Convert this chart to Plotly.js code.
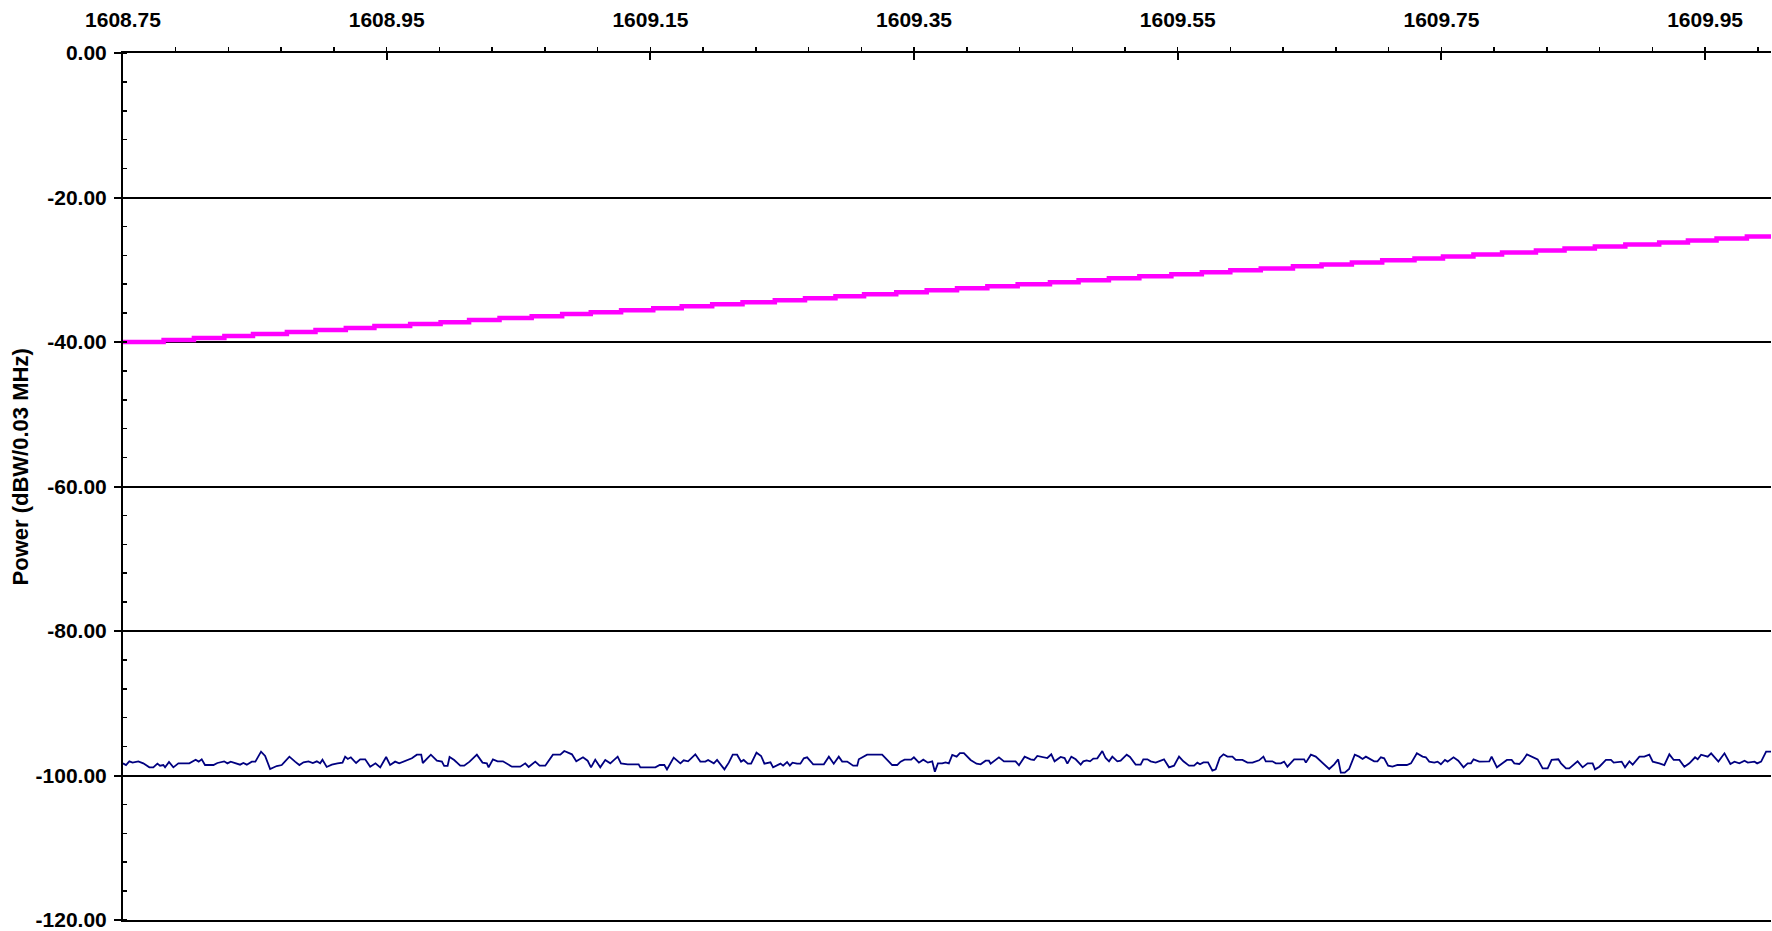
<!DOCTYPE html>
<html><head><meta charset="utf-8">
<script src="https://cdn.plot.ly/plotly-3.0.1.min.js"></script>
<style>html,body{margin:0;padding:0;background:#fff;}#chart{width:1772px;height:931px;}</style>
</head><body><div id="chart"></div>
<script>
// ---- Data ----
const xTickVals = [1608.75, 1608.95, 1609.15, 1609.35, 1609.55, 1609.75, 1609.95];
const xTickText = ['1608.75', '1608.95', '1609.15', '1609.35', '1609.55', '1609.75', '1609.95'];
const yTickVals = [0, -20, -40, -60, -80, -100, -120];
const yTickText = ['0.00', '-20.00', '-40.00', '-60.00', '-80.00', '-100.00', '-120.00'];
const yAxisTitle = 'Power (dBW/0.03 MHz)';

// Mask (magenta staircase): step start frequencies (MHz) and levels (dBW)
const maskFreq = [1608.75, 1608.7808, 1608.8038, 1608.8269, 1608.8486, 1608.8743, 1608.8960, 1608.9190, 1608.9407, 1608.9678, 1608.9909, 1609.0125, 1609.0356, 1609.0600, 1609.0831, 1609.1048, 1609.1278, 1609.1522, 1609.1738, 1609.1969, 1609.2199, 1609.2444, 1609.2673, 1609.2904, 1609.3121, 1609.3365, 1609.3596, 1609.3826, 1609.4056, 1609.4286, 1609.4531, 1609.4748, 1609.4978, 1609.5209, 1609.5452, 1609.5683, 1609.5899, 1609.6130, 1609.6374, 1609.6591, 1609.6821, 1609.7051, 1609.7296, 1609.7512, 1609.7743, 1609.7960, 1609.8217, 1609.8434, 1609.8664, 1609.8895, 1609.9152, 1609.9370, 1609.9587, 1609.9817, 1610.0];
const maskLevel = [-40.00, -39.72, -39.45, -39.17, -38.90, -38.62, -38.35, -38.07, -37.80, -37.52, -37.25, -36.97, -36.69, -36.42, -36.14, -35.87, -35.59, -35.32, -35.04, -34.77, -34.49, -34.21, -33.94, -33.66, -33.39, -33.11, -32.84, -32.56, -32.29, -32.01, -31.74, -31.46, -31.18, -30.91, -30.63, -30.36, -30.08, -29.81, -29.53, -29.26, -28.98, -28.70, -28.43, -28.15, -27.88, -27.60, -27.33, -27.05, -26.78, -26.50, -26.23, -25.95, -25.67, -25.40, -25.40];

// Measured noise floor (navy)
const noiseFreq = [
1608.7500,1608.7523,1608.7548,1608.7573,1608.7616,1608.7654,1608.7700,1608.7730,1608.7761,1608.7781,
1608.7806,1608.7819,1608.7849,1608.7882,1608.7920,1608.8003,1608.8051,1608.8074,1608.8097,1608.8122,
1608.8186,1608.8216,1608.8267,1608.8292,1608.8317,1608.8355,1608.8388,1608.8413,1608.8439,1608.8477,
1608.8504,1608.8547,1608.8578,1608.8616,1608.8666,1608.8704,1608.8762,1608.8805,1608.8838,1608.8869,
1608.8907,1608.8940,1608.8970,1608.8995,1608.9013,1608.9045,1608.9084,1608.9127,1608.9165,1608.9185,
1608.9205,1608.9228,1608.9268,1608.9299,1608.9337,1608.9375,1608.9415,1608.9451,1608.9496,1608.9526,
1608.9564,1608.9595,1608.9640,1608.9691,1608.9729,1608.9762,1608.9774,1608.9805,1608.9835,1608.9881,
1608.9919,1608.9936,1608.9962,1608.9977,1609.0012,1609.0058,1609.0088,1609.0129,1609.0184,1609.0227,
1609.0260,1609.0273,1609.0306,1609.0341,1609.0382,1609.0450,1609.0513,
1609.0551,1609.0577,1609.0627,1609.0660,1609.0703,1609.0761,1609.0817,1609.0847,1609.0905,1609.0938,
1609.0989,1609.1024,1609.1050,1609.1082,1609.1120,1609.1158,1609.1196,1609.1252,1609.1277,1609.1328,
1609.1411,1609.1424,1609.1538,1609.1571,1609.1606,1609.1626,1609.1677,1609.1728,1609.1753,1609.1786,
1609.1841,1609.1879,1609.1917,1609.1938,1609.1981,1609.2006,1609.2062,1609.2095,1609.2125,1609.2158,
1609.2188,1609.2208,1609.2239,1609.2264,1609.2305,1609.2340,1609.2365,1609.2411,1609.2431,1609.2487,
1609.2507,1609.2537,1609.2558,1609.2578,1609.2613,1609.2638,1609.2664,1609.2689,1609.2735,1609.2816,
1609.2854,1609.2891,1609.2929,1609.2955,1609.2993,1609.3038,1609.3069,1609.3081,1609.3144,1609.3258,
1609.3334,1609.3372,
1609.3398,1609.3428,1609.3478,1609.3499,1609.3537,1609.3570,1609.3605,1609.3638,1609.3658,1609.3681,
1609.3714,1609.3739,1609.3764,1609.3790,1609.3823,1609.3848,1609.3878,1609.3929,1609.3974,1609.4005,
1609.4043,1609.4068,1609.4081,1609.4119,1609.4144,1609.4182,1609.4270,1609.4296,1609.4339,1609.4384,
1609.4410,1609.4435,1609.4473,1609.4511,1609.4541,1609.4566,1609.4612,1609.4642,1609.4663,1609.4693,
1609.4726,1609.4764,1609.4784,1609.4809,1609.4835,1609.4860,1609.4890,1609.4928,1609.4953,1609.4979,
1609.5004,1609.5042,1609.5067,1609.5113,1609.5138,1609.5181,1609.5219,1609.5239,1609.5270,1609.5295,
1609.5333,1609.5396,1609.5434,1609.5472,1609.5510,1609.5543,1609.5586,1609.5624,1609.5649,1609.5669,
1609.5695,1609.5730,1609.5763,1609.5788,1609.5819,1609.5847,1609.5877,1609.5915,1609.5940,1609.5991,
1609.6029,1609.6067,1609.6117,1609.6150,1609.6168,1609.6218,1609.6244,1609.6282,1609.6307,1609.6332,
1609.6383,
1609.6434,1609.6459,1609.6472,1609.6510,1609.6547,1609.6585,1609.6623,1609.6649,1609.6687,1609.6717,
1609.6737,1609.6767,1609.6800,1609.6843,1609.6876,1609.6902,1609.6927,1609.6990,1609.7015,1609.7041,
1609.7066,1609.7096,1609.7129,1609.7167,1609.7238,1609.7269,1609.7314,1609.7357,1609.7382,1609.7408,
1609.7446,1609.7471,1609.7496,1609.7527,1609.7547,1609.7592,1609.7628,1609.7668,1609.7699,1609.7724,
1609.7744,1609.7787,1609.7863,1609.7881,1609.7921,1609.7964,1609.7997,1609.8033,1609.8053,1609.8091,
1609.8116,1609.8149,1609.8192,1609.8230,1609.8268,1609.8306,1609.8336,1609.8387,1609.8407,1609.8445,
1609.8470,1609.8521,1609.8533,1609.8571,1609.8609,1609.8647,1609.8665,1609.8698,1609.8748,1609.8786,
1609.8807,1609.8867,1609.8893,1609.8926,1609.8951,1609.9002,1609.9039,1609.9077,1609.9103,1609.9153,
1609.9191,1609.9229,1609.9262,1609.9305,1609.9343,1609.9381,1609.9424,1609.9444,1609.9470,1609.9520,
1609.9546,1609.9601,1609.9647,1609.9692,1609.9723,1609.9760,1609.9799,1609.9824,1609.9875,1609.9895,
1609.9925,1609.9963,1610.0000];
const noisePower = [
-98.32,-98.55,-98.04,-98.22,-98.04,-98.32,-98.87,-98.87,-98.36,-98.64,
-98.55,-98.87,-98.13,-98.87,-98.32,-98.32,-97.81,-98.08,-97.76,-98.55,
-98.55,-98.27,-98.04,-98.32,-98.08,-98.32,-98.50,-98.27,-98.50,-98.08,
-98.08,-96.70,-97.30,-99.10,-98.69,-98.55,-97.39,-98.08,-98.55,-98.18,
-98.04,-98.27,-98.04,-98.32,-97.81,-98.82,-98.50,-98.32,-98.22,-97.39,
-97.71,-97.48,-98.27,-97.76,-97.76,-98.78,-98.32,-98.87,-97.44,-98.55,
-98.08,-98.32,-98.04,-97.62,-97.12,-97.12,-98.27,-97.71,-97.12,-97.95,
-98.08,-98.68,-98.68,-97.44,-97.85,-98.64,-98.64,-98.08,-97.12,-98.22,
-98.32,-98.87,-97.76,-98.04,-98.04,-98.78,-98.78,
-98.32,-98.82,-98.08,-98.64,-98.64,-97.12,-97.12,-96.61,-97.07,-98.04,
-97.48,-97.95,-98.87,-97.81,-98.87,-97.85,-98.32,-97.39,-98.32,-98.45,
-98.45,-98.87,-98.87,-98.55,-98.55,-99.15,-97.53,-98.32,-97.90,-98.04,
-97.07,-98.08,-98.08,-97.85,-98.32,-97.85,-99.15,-98.22,-97.12,-97.12,
-98.08,-97.85,-98.36,-98.36,-96.84,-97.30,-98.36,-98.18,-98.87,-98.36,
-98.64,-98.13,-98.64,-98.22,-98.36,-98.36,-97.62,-97.48,-98.45,-98.45,
-97.39,-98.36,-97.39,-98.08,-98.08,-98.64,-98.64,-97.76,-97.12,-97.12,
-98.55,-98.55,
-98.08,-97.81,-97.81,-97.48,-98.22,-97.81,-98.22,-98.04,-99.47,-98.32,
-98.32,-98.18,-98.32,-97.16,-97.39,-96.89,-96.89,-97.85,-98.36,-98.45,
-97.95,-97.95,-98.36,-97.85,-97.48,-98.04,-98.04,-98.59,-97.39,-97.76,
-97.85,-97.30,-97.48,-97.58,-97.07,-98.04,-97.44,-97.58,-98.36,-97.39,
-97.76,-98.50,-98.04,-97.90,-98.04,-97.67,-97.62,-96.61,-97.58,-98.04,
-97.39,-98.04,-97.95,-97.12,-97.44,-98.50,-98.50,-97.76,-97.76,-98.04,
-98.22,-97.76,-98.87,-98.64,-97.39,-98.04,-98.64,-98.64,-98.22,-98.45,
-98.18,-98.18,-99.33,-99.15,-97.53,-97.07,-97.39,-97.39,-97.85,-97.85,
-98.22,-98.22,-97.90,-97.39,-98.04,-98.04,-98.32,-98.32,-98.08,-98.78,
-97.76,
-97.76,-97.76,-98.22,-97.12,-97.39,-98.08,-98.68,-99.10,-98.45,-97.76,
-99.61,-99.61,-99.10,-97.12,-97.39,-97.71,-97.39,-98.04,-98.04,-97.48,
-97.62,-98.64,-98.78,-98.55,-98.55,-98.32,-96.93,-97.39,-97.48,-98.08,
-98.22,-98.08,-98.45,-97.85,-98.08,-97.48,-97.95,-98.87,-98.32,-98.32,
-97.76,-98.08,-98.04,-97.39,-98.87,-98.32,-97.85,-97.85,-98.32,-98.41,
-97.95,-97.07,-97.39,-97.76,-99.01,-99.01,-97.85,-97.76,-98.32,-99.01,
-99.01,-98.22,-98.04,-98.87,-98.32,-98.32,-99.15,-98.78,-97.85,-97.85,
-98.22,-98.08,-98.87,-98.04,-98.50,-97.39,-97.39,-97.12,-98.08,-98.32,
-98.55,-97.07,-97.85,-97.85,-98.78,-98.32,-97.48,-97.76,-97.12,-97.39,
-96.93,-98.08,-96.93,-98.41,-98.08,-98.32,-97.95,-98.22,-98.08,-98.32,
-98.08,-96.70,-96.70];

// ---- Chart ----
const FONT = 'Liberation Sans, Arial, Helvetica, sans-serif';
const xRange = [1608.75, 1610.0];

const traces = [
  {x: noiseFreq, y: noisePower, type: 'scatter', mode: 'lines',
   line: {color: '#000080', width: 1.8}, hoverinfo: 'skip'},
  {x: maskFreq, y: maskLevel, type: 'scatter', mode: 'lines',
   line: {color: '#FF00FF', width: 4.5, shape: 'hv'}, hoverinfo: 'skip'}
];

const tickFont = {family: FONT, size: 21, color: '#000', weight: 'bold'};

const layout = {
  width: 1772, height: 931,
  margin: {l: 123, r: 1, t: 53, b: 11, pad: 0},
  paper_bgcolor: '#ffffff', plot_bgcolor: '#ffffff',
  showlegend: false,
  font: {family: FONT, color: '#000'},
  xaxis: {
    side: 'top', range: xRange, tickmode: 'array', tickvals: xTickVals, ticktext: xTickText,
    ticks: 'inside', ticklen: 7, tickwidth: 2, tickcolor: '#000',
    showline: true, linewidth: 2, linecolor: '#000', mirror: true,
    showgrid: false, zeroline: false, tickfont: tickFont, ticklabelstandoff: 16,
    ticklabeloverflow: 'allow',
    minor: {tick0: 1608.75, dtick: 0.04, ticks: 'outside', ticklen: 4, tickwidth: 1.5, tickcolor: '#000', showgrid: false}
  },
  xaxis2: {
    overlaying: 'x', side: 'top', anchor: 'y', range: xRange,
    tickmode: 'array', tickvals: xTickVals, ticks: 'outside', ticklen: 4, tickwidth: 2, tickcolor: '#000',
    showticklabels: false, showgrid: false, showline: false, zeroline: false
  },
  yaxis: {
    range: [-120, 0], tickmode: 'array', tickvals: yTickVals, ticktext: yTickText,
    ticks: 'outside', ticklen: 7, tickwidth: 2, tickcolor: '#000',
    showline: true, linewidth: 2, linecolor: '#000',
    showgrid: true, gridcolor: '#000', gridwidth: 2, zeroline: false,
    tickfont: tickFont, ticklabelstandoff: 3, ticklabeloverflow: 'allow',
    minor: {tick0: 0, dtick: 4, ticks: 'inside', ticklen: 4, tickwidth: 1.5, tickcolor: '#000', showgrid: false}
  },
  annotations: [{
    text: yAxisTitle, xref: 'paper', yref: 'paper',
    x: -0.0625, y: 0.522, xanchor: 'center', yanchor: 'middle',
    textangle: -90, showarrow: false,
    font: {family: FONT, size: 22, color: '#000', weight: 'bold'}
  }]
};

Plotly.newPlot('chart', traces, layout, {displayModeBar: false, staticPlot: true});
</script>
</body></html>
